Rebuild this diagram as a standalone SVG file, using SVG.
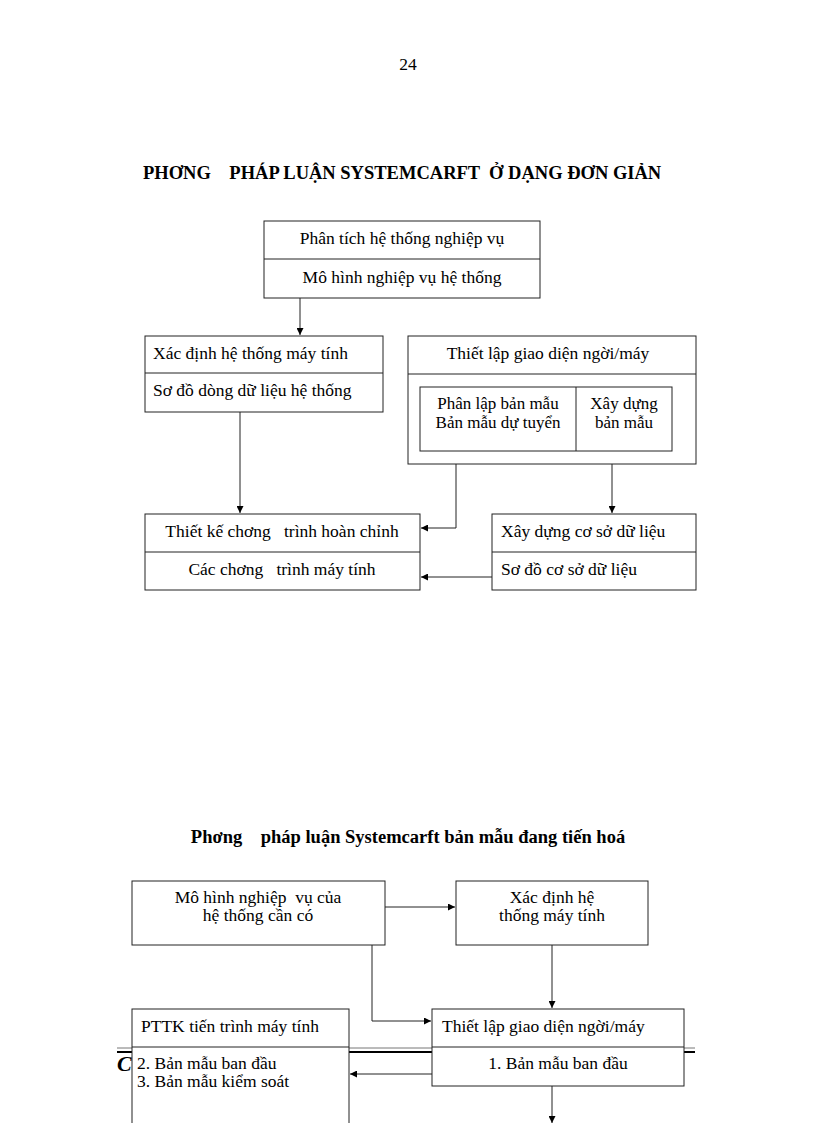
<svg xmlns="http://www.w3.org/2000/svg" width="816" height="1123" viewBox="0 0 816 1123">
<defs>
<marker id="ah" viewBox="0 0 10 10" refX="10" refY="5" markerWidth="7" markerHeight="7" orient="auto" markerUnits="userSpaceOnUse">
<path d="M0,0 L10,5 L0,10 z" fill="#000"/>
</marker>
<style>
text{font-family:"Liberation Serif","Times New Roman",serif;fill:#000}
.t{font-size:17.5px}
.s{font-size:17px}
.c{text-anchor:middle}
.h{font-size:18.5px;font-weight:bold}
.box{fill:#fff;stroke:#222;stroke-width:1}
.ln{fill:none;stroke:#222;stroke-width:1}
.con{fill:none;stroke:#222;stroke-width:1;marker-end:url(#ah)}
</style>
</defs>
<rect width="816" height="1123" fill="#fff"/>
<text x="408" y="70" class="t c">24</text>
<text x="143" y="179" class="h" xml:space="preserve">PHƠNG    PHÁP LUẬN SYSTEMCARFT  Ở DẠNG ĐƠN GIẢN</text>

<g id="footer">
<line x1="117" y1="1048" x2="695" y2="1048" stroke="#777" stroke-width="1"/>
<line x1="117" y1="1052" x2="695" y2="1052" stroke="#000" stroke-width="2"/>
<text x="117" y="1071" style="font-size:22px;font-weight:bold;font-style:italic">C</text>
</g>

<g id="connectors">
<line class="con" x1="300" y1="298" x2="300" y2="335"/>
<line class="con" x1="240" y1="412" x2="240" y2="513"/>
<polyline class="con" points="456,464 456,528 421,528"/>
<line class="con" x1="612" y1="464" x2="612" y2="513"/>
<line class="con" x1="492" y1="577" x2="421" y2="577"/>
<line class="con" x1="385" y1="907" x2="455" y2="907"/>
<polyline class="con" points="372,945 372,1021 431,1021"/>
<line class="con" x1="552" y1="945" x2="552" y2="1008"/>
<line class="con" x1="432" y1="1074" x2="350" y2="1074"/>
<line class="con" x1="552" y1="1086" x2="552" y2="1123"/>
</g>

<g id="n1">
<rect class="box" x="264" y="221" width="276" height="77"/>
<line class="ln" x1="264" y1="259" x2="540" y2="259"/>
<text x="402" y="244" class="t c">Phân tích hệ thống nghiệp vụ</text>
<text x="402" y="283" class="t c">Mô hình nghiệp vụ hệ thống</text>
</g>

<g id="n2">
<rect class="box" x="145" y="336" width="238" height="76"/>
<line class="ln" x1="145" y1="373" x2="383" y2="373"/>
<text x="153" y="359" class="t">Xác định hệ thống máy tính</text>
<text x="153" y="396" class="t">Sơ đồ dòng dữ liệu hệ thống</text>
</g>

<g id="n3">
<rect class="box" x="408" y="336" width="288" height="128"/>
<line class="ln" x1="408" y1="374" x2="696" y2="374"/>
<text x="548" y="359" class="t c">Thiết lập giao diện ngời/máy</text>
<rect class="box" x="420" y="387" width="252" height="64"/>
<line class="ln" x1="576" y1="387" x2="576" y2="451"/>
<text x="498" y="409" class="s c">Phân lập bản mẫu</text>
<text x="498" y="428" class="s c">Bản mẫu dự tuyển</text>
<text x="624" y="409" class="s c">Xây dựng</text>
<text x="624" y="428" class="s c">bản mẫu</text>
</g>

<g id="n4">
<rect class="box" x="145" y="514" width="275" height="76"/>
<line class="ln" x1="145" y1="552" x2="420" y2="552"/>
<text x="282" y="537" class="t c" xml:space="preserve">Thiết kế chơng   trình hoàn chỉnh</text>
<text x="282" y="575" class="t c" xml:space="preserve">Các chơng   trình máy tính</text>
</g>

<g id="n5">
<rect class="box" x="492" y="514" width="204" height="76"/>
<line class="ln" x1="492" y1="552" x2="696" y2="552"/>
<text x="501" y="537" class="t">Xây dựng cơ sở dữ liệu</text>
<text x="501" y="575" class="t">Sơ đồ cơ sở dữ liệu</text>
</g>

<text x="408" y="843" class="h c" xml:space="preserve">Phơng    pháp luận Systemcarft bản mẫu đang tiến hoá</text>

<g id="n6">
<rect class="box" x="132" y="881" width="253" height="64"/>
<text x="258" y="903" class="t c" xml:space="preserve">Mô hình nghiệp  vụ của</text>
<text x="258" y="921" class="t c">hệ thống cần có</text>
</g>

<g id="n7">
<rect class="box" x="456" y="881" width="192" height="64"/>
<text x="552" y="903" class="t c">Xác định hệ</text>
<text x="552" y="921" class="t c">thống máy tính</text>
</g>

<g id="n8">
<rect class="box" x="132" y="1009" width="217" height="130"/>
<line class="ln" x1="132" y1="1047" x2="349" y2="1047"/>
<text x="141" y="1032" class="t">PTTK tiến trình máy tính</text>
<text x="137" y="1069" class="t">2. Bản mẫu ban đầu</text>
<text x="137" y="1087" class="t">3. Bản mẫu kiểm soát</text>
</g>

<g id="n9">
<rect class="box" x="432" y="1009" width="252" height="77"/>
<line class="ln" x1="432" y1="1047" x2="684" y2="1047"/>
<text x="442" y="1032" class="t">Thiết lập giao diện ngời/máy</text>
<text x="558" y="1069" class="t c">1. Bản mẫu ban đầu</text>
</g>
</svg>
